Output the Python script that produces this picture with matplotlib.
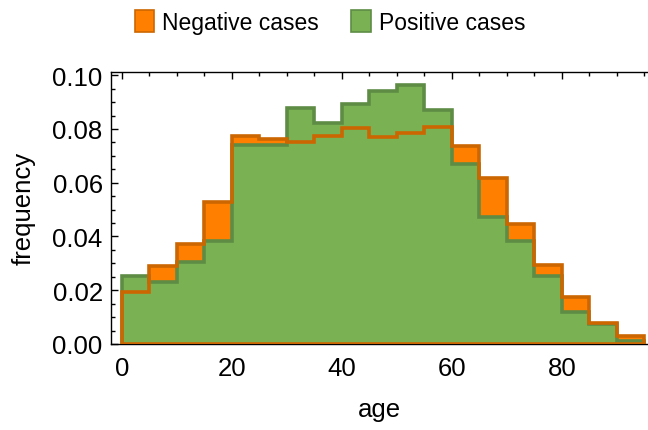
import numpy as np
import matplotlib
matplotlib.use("Agg")
import matplotlib.pyplot as plt
from matplotlib.patches import Patch
from matplotlib.ticker import MultipleLocator

plt.rcParams['font.family'] = ['Liberation Sans', 'DejaVu Sans']

bin_edges = [0, 5, 10, 15, 20, 25, 30, 35, 40, 45, 50, 55, 60, 65, 70, 75, 80, 85, 90, 95]
negative = [0.0192, 0.0289, 0.0372, 0.0529, 0.0775, 0.0763, 0.0753, 0.0775, 0.0802, 0.0771,
            0.0785, 0.0808, 0.0738, 0.0616, 0.0446, 0.0295, 0.0174, 0.0078, 0.0029]
positive = [0.0252, 0.0232, 0.0306, 0.0384, 0.0741, 0.0741, 0.0877, 0.0822, 0.0893, 0.0940,
            0.0964, 0.0871, 0.0670, 0.0471, 0.0384, 0.0252, 0.0118, 0.0074, 0.0012]
series_names = ["Negative cases", "Positive cases"]

neg_fill, neg_edge = '#FF8000', '#CC6600'
pos_fill, pos_edge = '#7AB153', '#5E8C45'

fig = plt.figure(figsize=(6.48, 4.31), dpi=100)
ax = fig.add_axes([111/648, 1 - 345/431, 1 - 111/648, (345 - 72.7)/431])

ax.stairs(negative, bin_edges, fill=True, color=neg_fill, zorder=1)
ax.stairs(positive, bin_edges, fill=True, color=pos_fill, zorder=2)
ax.stairs(positive, bin_edges, fill=False, baseline=0, color=pos_edge, lw=2.6, zorder=3)
ax.stairs(negative, bin_edges, fill=False, baseline=0, color=neg_edge, lw=2.6, zorder=4)
ax.plot([0, 95], [0, 0], color=neg_edge, lw=2.6, zorder=4, solid_capstyle='butt')

ax.set_xlim(-2.0, 95.64)
ax.set_ylim(0, 0.1013)

ax.xaxis.set_major_locator(MultipleLocator(20))
ax.xaxis.set_minor_locator(MultipleLocator(5))
ax.yaxis.set_major_locator(MultipleLocator(0.02))
ax.yaxis.set_minor_locator(MultipleLocator(0.005))
ax.yaxis.set_major_formatter(matplotlib.ticker.FormatStrFormatter('%.2f'))

ax.tick_params(which='both', direction='in', top=True, right=False, labelsize=18.5, width=1)
ax.tick_params(which='major', length=5)
ax.tick_params(which='minor', length=3)
ax.tick_params(axis='x', which='major', pad=9)
ax.tick_params(axis='y', which='major', pad=6)
ax.spines['right'].set_visible(False)
for s in ['left', 'top', 'bottom']:
    ax.spines[s].set_linewidth(1)

ax.set_xlabel('age', fontsize=18.5, labelpad=12)
ax.set_ylabel('frequency', fontsize=18.5, labelpad=12)

handles = [Patch(facecolor=neg_fill, edgecolor=neg_edge, lw=1.2),
           Patch(facecolor=pos_fill, edgecolor=pos_edge, lw=1.2)]
fig.legend(handles, series_names, loc='center', bbox_to_anchor=(330/648, 1 - 23/431),
           ncol=2, frameon=False, fontsize=16.5, handlelength=0.85, handleheight=1.05,
           handletextpad=0.35, columnspacing=1.4)

fig.savefig('out.png', dpi=100)
